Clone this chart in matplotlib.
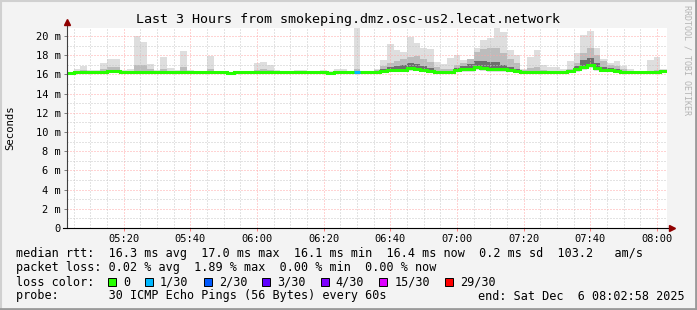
import numpy as np
import matplotlib.pyplot as plt
from matplotlib.patches import Rectangle
from matplotlib.ticker import MultipleLocator, FixedLocator

W, H = 697, 310

# 2-minute bins starting 05:03 (minutes of day), 3 hours ending 08:02:58
start_min = 5 * 60 + 2 + 58 / 60
bin_start = 303
bin_width = 2

median = [16.1, 16.2, 16.2, 16.2, 16.3, 16.3, 16.4, 16.4, 16.3, 16.3,
          16.3, 16.2, 16.3, 16.3, 16.2, 16.2, 16.3, 16.3, 16.3, 16.2,
          16.2, 16.2, 16.2, 16.2, 16.1, 16.2, 16.2, 16.2, 16.2, 16.2,
          16.2, 16.2, 16.2, 16.2, 16.2, 16.2, 16.2, 16.2, 16.2, 16.1,
          16.2, 16.2, 16.2, 16.2, 16.2, 16.2, 16.3, 16.4, 16.5, 16.5,
          16.5, 16.7, 16.6, 16.5, 16.4, 16.3, 16.3, 16.3, 16.5, 16.6,
          16.6, 16.8, 16.7, 16.6, 16.6, 16.6, 16.5, 16.4, 16.3, 16.3,
          16.3, 16.2, 16.2, 16.2, 16.2, 16.4, 16.6, 16.8, 17.0, 16.7,
          16.5, 16.5, 16.4, 16.3, 16.2, 16.2, 16.2, 16.2, 16.2, 16.4]

smoke_max = [16.3, 16.6, 16.9, 16.5, 16.5, 17.2, 17.6, 17.6, 16.5, 16.6,
             20.0, 19.4, 17.1, 16.5, 17.8, 16.7, 16.5, 18.4, 16.5, 16.4,
             16.4, 17.9, 16.3, 16.3, 16.3, 16.3, 16.3, 16.3, 17.2, 17.3,
             17.0, 16.5, 16.4, 16.3, 16.5, 16.5, 16.3, 16.3, 16.5, 16.4,
             16.6, 16.6, 16.4, 20.9, 16.4, 16.4, 16.6, 17.5, 19.2, 18.5,
             18.3, 19.9, 19.3, 18.8, 18.6, 17.3, 17.1, 17.7, 18.0, 17.5,
             17.5, 18.8, 19.6, 19.8, 20.8, 20.4, 18.5, 18.0, 16.6, 17.8,
             18.5, 17.0, 16.8, 16.8, 16.6, 17.4, 18.2, 20.1, 20.5, 18.8,
             17.6, 17.2, 17.4, 16.9, 16.6, 16.4, 16.4, 17.5, 17.8, 16.6]

smoke_p80 = [16.2, 16.4, 16.5, 16.3, 16.4, 16.6, 16.8, 16.8, 16.4, 16.4,
             17.0, 17.0, 16.6, 16.4, 16.6, 16.4, 16.4, 16.8, 16.4, 16.3,
             16.3, 16.6, 16.3, 16.3, 16.2, 16.3, 16.3, 16.3, 16.5, 16.6,
             16.5, 16.3, 16.3, 16.3, 16.3, 16.3, 16.3, 16.3, 16.3, 16.2,
             16.4, 16.4, 16.3, 16.6, 16.3, 16.3, 16.5, 16.9, 17.2, 17.4,
             17.6, 17.8, 17.9, 17.6, 17.3, 16.8, 16.6, 16.6, 17.0, 17.2,
             17.6, 18.3, 18.6, 18.7, 18.8, 18.2, 17.6, 17.2, 16.5, 16.7,
             16.8, 16.5, 16.4, 16.4, 16.4, 16.6, 17.2, 18.2, 18.8, 18.0,
             17.4, 17.0, 16.9, 16.6, 16.3, 16.3, 16.3, 16.4, 16.5, 16.5]

smoke_p60 = [16.1, 16.2, 16.2, 16.2, 16.3, 16.3, 16.4, 16.4, 16.3, 16.3,
             16.3, 16.2, 16.3, 16.3, 16.2, 16.2, 16.3, 16.3, 16.3, 16.2,
             16.2, 16.2, 16.2, 16.2, 16.1, 16.2, 16.2, 16.2, 16.2, 16.2,
             16.2, 16.2, 16.2, 16.2, 16.2, 16.2, 16.2, 16.2, 16.2, 16.1,
             16.2, 16.2, 16.2, 16.2, 16.2, 16.2, 16.3, 16.6, 16.8, 16.9,
             17.0, 17.2, 17.1, 16.9, 16.7, 16.4, 16.3, 16.3, 16.7, 16.9,
             17.1, 17.4, 17.4, 17.3, 17.3, 17.0, 16.8, 16.6, 16.3, 16.4,
             16.4, 16.2, 16.2, 16.2, 16.2, 16.5, 16.9, 17.5, 17.7, 17.2,
             16.8, 16.7, 16.6, 16.3, 16.2, 16.2, 16.2, 16.2, 16.2, 16.4]

smoke_min = [15.9, 16.0, 16.0, 16.0, 16.1, 16.1, 16.2, 16.2, 16.1, 16.1,
             16.1, 16.0, 16.1, 16.1, 16.0, 16.0, 16.1, 16.1, 16.1, 16.0,
             16.0, 16.0, 16.0, 16.0, 15.9, 16.0, 16.0, 16.0, 16.0, 16.0,
             16.0, 16.0, 16.0, 16.0, 16.0, 16.0, 16.0, 16.0, 16.0, 15.9,
             16.0, 16.0, 16.0, 16.0, 16.0, 16.0, 16.1, 16.2, 16.3, 16.3,
             16.3, 16.4, 16.4, 16.3, 16.2, 16.1, 16.1, 16.1, 16.2, 16.3,
             16.3, 16.5, 16.4, 16.3, 16.3, 16.3, 16.2, 16.2, 16.1, 16.1,
             16.1, 16.0, 16.0, 16.0, 16.0, 16.2, 16.3, 16.5, 16.7, 16.4,
             16.3, 16.3, 16.2, 16.1, 16.0, 16.0, 16.0, 16.0, 16.0, 16.2]

loss = [0] * 90
loss[43] = 1

loss_labels = ['0', '1/30', '2/30', '3/30', '4/30', '15/30', '29/30']
loss_colors = ['#26ff00', '#00b8ff', '#0059ff', '#5e00ff', '#7e00ff', '#dd00ff', '#ff0000']
loss_levels = [0, 1, 2, 3, 4, 15, 29]

xtick_labels = ['05:20', '05:40', '06:00', '06:20', '06:40', '07:00', '07:20', '07:40', '08:00']
ytick_labels = ['0'] + ['%d m' % v for v in range(2, 21, 2)]

title = 'Last 3 Hours from smokeping.dmz.osc-us2.lecat.network'
stat_lines = [
    'median rtt:  16.3 ms avg  17.0 ms max  16.1 ms min  16.4 ms now  0.2 ms sd  103.2   am/s',
    'packet loss: 0.02 % avg  1.89 % max  0.00 % min  0.00 % now',
]
probe_text = 'probe:       30 ICMP Echo Pings (56 Bytes) every 60s'
end_text = 'end: Sat Dec  6 08:02:58 2025'

mono = 'DejaVu Sans Mono'

fig = plt.figure(figsize=(W / 100, H / 100), dpi=100, facecolor='#f3f3f3')
# plot area: x 67..667, y 28..228 pixels
ax = fig.add_axes([67 / W, (H - 228) / H, 600 / W, 200 / H])
ax.set_facecolor('white')

n = len(median)
edges = bin_start + bin_width * np.arange(n + 1)
def ext(a):
    a = np.asarray(a, dtype=float)
    return np.append(a, a[-1])

ax.fill_between(edges, ext(smoke_min), ext(smoke_max), step='post', color='#dedede', lw=0, zorder=1)
ax.fill_between(edges, ext(median), ext(smoke_p80), step='post', color='#bcbcbc', lw=0, zorder=1.1)
ax.fill_between(edges, ext(median), ext(smoke_p60), step='post', color='#6e6e6e', lw=0, zorder=1.2)

ax.step(edges, ext(median), where='post', color=loss_colors[0], lw=2.2, zorder=3,
        solid_joinstyle='miter')
for i, l in enumerate(loss):
    if l > 0:
        lvl = max(j for j, v in enumerate(loss_levels) if v <= l)
        ax.hlines(median[i], edges[i], edges[i + 1], color=loss_colors[lvl], lw=2.2, zorder=3.1)

ax.set_xlim(start_min, start_min + 180)
ax.set_ylim(0, 200 / 9.6)

ax.xaxis.set_major_locator(FixedLocator(np.arange(320, 481, 20)))
ax.xaxis.set_minor_locator(MultipleLocator(5))
ax.set_xticklabels(xtick_labels)
ax.yaxis.set_major_locator(FixedLocator(np.arange(0, 21, 2)))
ax.yaxis.set_minor_locator(MultipleLocator(1))
ax.set_yticklabels(ytick_labels)

ax.set_axisbelow(False)
ax.grid(which='major', color='#ffa8a8', lw=0.72, linestyle=(0, (1, 2)))
ax.grid(which='minor', color='#c8c8c8', lw=0.72, linestyle=(0, (1, 2)))

ax.tick_params(axis='both', which='major', labelsize=7.5, colors='#000000')
ax.tick_params(axis='y', which='major', length=2.5, width=0.72, color='#808080', pad=2)
ax.tick_params(axis='x', which='major', length=2, width=0.72, color='#ff8080', pad=2.5)
ax.tick_params(axis='both', which='minor', length=0)
for lab in ax.get_xticklabels() + ax.get_yticklabels():
    lab.set_fontfamily(mono)

for s in ax.spines.values():
    s.set_visible(False)

# axis lines with arrows
ax.plot([0, 0], [0, 1.03], transform=ax.transAxes, color='#404040', lw=0.8, clip_on=False, zorder=4)
ax.plot([-0.007, 1.008], [0, 0], transform=ax.transAxes, color='#000000', lw=0.8, clip_on=False, zorder=4)
ax.plot([0], [1.03], marker='^', ms=4, color='#900000', transform=ax.transAxes, clip_on=False, zorder=5)
ax.plot([1.008], [0], marker='>', ms=4, color='#900000', transform=ax.transAxes, clip_on=False, zorder=5)

def px(x, y):
    return x / W, 1 - y / H

fig.text(*px(348.5, 19), title, family=mono, fontsize=9.6, ha='center', va='center')
fig.text(*px(10, 128), 'Seconds', family=mono, fontsize=7.7, rotation=90, ha='center', va='center')
fig.text(*px(687, 60), 'RRDTOOL / TOBI OETIKER', family=mono, fontsize=6, rotation=-90,
         ha='center', va='center', color='#b4b4b4')

pitch = 7.13
fs = 8.5
fig.text(*px(16, 254), stat_lines[0], family=mono, fontsize=fs, va='center')
fig.text(*px(16, 268), stat_lines[1], family=mono, fontsize=fs, va='center')
fig.text(*px(16, 282), 'loss color:', family=mono, fontsize=fs, va='center')
xb = 108
for lab, col in zip(loss_labels, loss_colors):
    fig.patches.append(Rectangle(px(xb, 286), 8 / W, 8 / H, transform=fig.transFigure,
                                 facecolor=col, edgecolor='black', lw=0.7))
    fig.text(*px(xb + 15, 282), lab, family=mono, fontsize=fs, va='center')
    xb = xb + 15 + len(lab) * pitch + 15
fig.text(*px(16, 296), probe_text, family=mono, fontsize=fs, va='center')
fig.text(*px(478, 296), end_text, family=mono, fontsize=fs, va='center')

# outer bevel border
fig.add_artist(plt.Line2D([0.5 / W, 0.5 / W], [0, 1], transform=fig.transFigure, color='#d0d0d0', lw=1.5))
fig.add_artist(plt.Line2D([0, 1], [1 - 0.5 / H, 1 - 0.5 / H], transform=fig.transFigure, color='#d0d0d0', lw=1.5))
fig.add_artist(plt.Line2D([1 - 1 / W, 1 - 1 / W], [0, 1], transform=fig.transFigure, color='#9a9a9a', lw=2))
fig.add_artist(plt.Line2D([0, 1], [1 / H, 1 / H], transform=fig.transFigure, color='#9a9a9a', lw=2))

fig.savefig('out.png', dpi=100, facecolor=fig.get_facecolor())
